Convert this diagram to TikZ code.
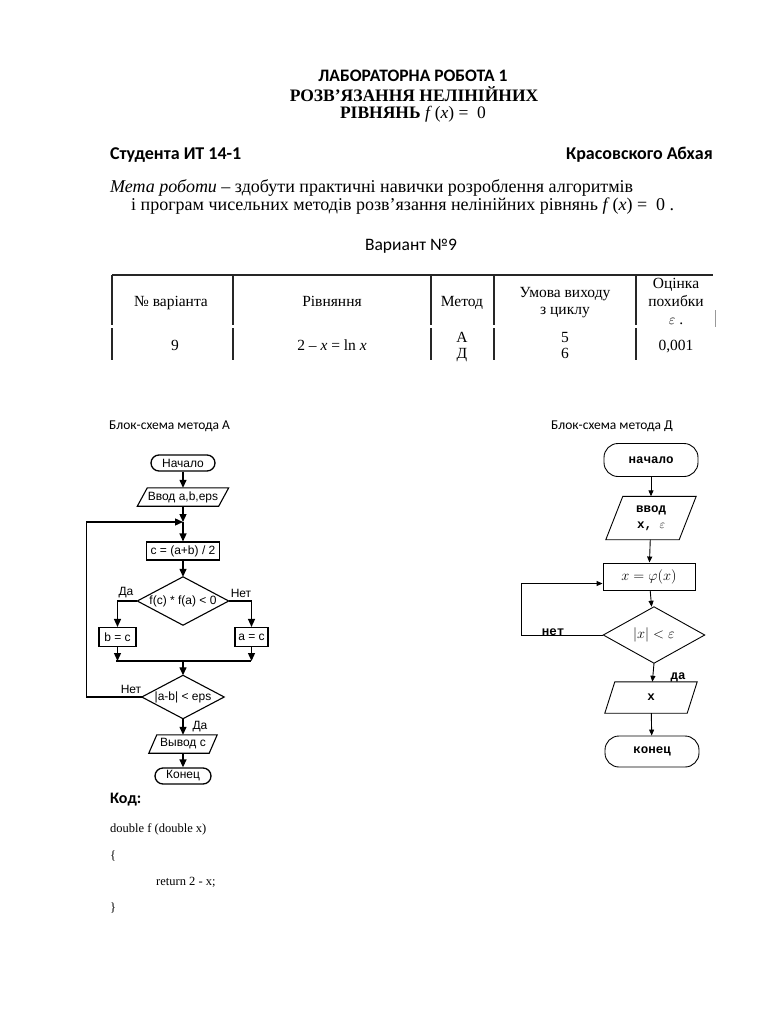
\documentclass[tikz,border=0pt]{standalone}
\usepackage{fontspec}
\setmainfont{Liberation Serif}
\newfontfamily\calf{Carlito}
\newfontfamily\arf{Liberation Sans}
\newfontfamily\monf{Liberation Mono}
\usetikzlibrary{arrows.meta,calc}
\newcommand\fs[1]{\fontsize{#1}{#1}\selectfont}
\newcommand\mypara[3]{\draw[#3] (#1.south west) -- ([xshift=-#2]#1.south east) -- (#1.north east) -- ([xshift=#2]#1.north west) -- cycle;}
\newcommand\mydiam[2]{\draw[#2] (#1.north) -- (#1.east) -- (#1.south) -- (#1.west) -- cycle;}
\tikzset{
  txt/.style={inner sep=0},
  hdr/.style={txt,anchor=base,font=\calf\bfseries\fs{17.5}},
  body/.style={txt,anchor=base west,font=\fs{18}},
  tab/.style={txt,anchor=base,font=\fs{15.5}},
  tline/.style={line width=1.1pt,black!85},
  % flowchart A
  aline/.style={line width=1.3pt},
  aarrow/.style={line width=1.3pt,-{Triangle[length=8pt,width=7pt]}},
  aterm/.style={draw,line width=1.3pt,rounded corners=8pt,inner sep=0,font=\arf\fs{12}},
  abox/.style={draw,line width=1.1pt,inner sep=0,font=\arf\fs{12}},
  ashape/.style={inner sep=0,font=\arf\fs{12}},
  alab/.style={txt,font=\arf\fs{12}},
  % flowchart D
  dline/.style={line width=0.9pt},
  darrow/.style={line width=0.9pt,-{Triangle[length=6pt,width=5pt]}},
  dterm/.style={draw,line width=0.9pt,rounded corners=14pt,inner sep=0,font=\monf\bfseries\fs{12.5}},
  dbox/.style={draw,line width=0.9pt,inner sep=0,font=\fs{15}},
  dshape/.style={inner sep=0,font=\monf\bfseries\fs{12.5}},
  dlab/.style={txt,font=\monf\bfseries\fs{12.5}},
  captxt/.style={txt,anchor=base west,font=\calf\fs{13.5}},
  code/.style={txt,anchor=base west,font=\fs{12.5}}
}
\begin{document}
\begin{tikzpicture}[x=1pt,y=-1pt]
\useasboundingbox[fill=white] (0,0) rectangle (768,1024);

% ---------- header ----------
\node[hdr] (t1) at (413,82) {ЛАБОРАТОРНА РОБОТА 1};
\node[txt,anchor=base,font=\bfseries\fs{17.5}] (t2) at (414,102) {РОЗВ’ЯЗАННЯ НЕЛІНІЙНИХ};
\node[txt,anchor=base,font=\fs{17.5}] (t3) at (413,119) {\textbf{РІВНЯНЬ} \textit{f}\,(\textit{x}) = \ 0};
\node[hdr,anchor=base west,font=\calf\bfseries\fs{18}] (st) at (110,160) {Студента ИТ 14-1};
\node[hdr,anchor=base east,font=\calf\bfseries\fs{18}] (nm) at (713,160) {Красовского Абхая};
\node[body] (m1) at (110,193) {\textit{Мета роботи} – здобути практичні навички розроблення алгоритмів};
\node[body] (m2) at (131,211) {і програм чисельних методів розв’язання нелінійних рівнянь \textit{f}\,(\textit{x}) = \ 0 .};
\node[txt,anchor=base,font=\calf\fs{17.5}] (var) at (411,250) {Вариант №9};

% ---------- table ----------
\draw[tline] (112,275) -- (713,275);
\foreach \x in {112,233,431,494,636}{
  \draw[tline] (\x,275) -- (\x,325);
  \draw[tline] (\x,328) -- (\x,360);
}
\draw[black!40,line width=0.8pt] (715,310) -- (715,327);
\node[tab] (h1) at (171,306) {№ варіанта};
\node[tab] (h2) at (332,306) {Рівняння};
\node[tab] (h3) at (462,306) {Метод};
\node[tab] (h4a) at (565,297) {Умова виходу};
\node[tab] (h4b) at (565,314) {з циклу};
\node[tab] (h5a) at (676,288) {Оцінка};
\node[tab] (h5b) at (676,306) {похибки};
\node[tab] (h5c) at (676,324) {$\varepsilon$ .};
\node[tab] (r1) at (175,350) {9};
\node[tab] (r2) at (332,350) {2 – \textit{x} = ln \textit{x}};
\node[tab] (r3a) at (462,342) {А};
\node[tab] (r3b) at (462,358) {Д};
\node[tab] (r4a) at (565,342) {5};
\node[tab] (r4b) at (565,358) {6};
\node[tab] (r5) at (676,350) {0,001};

% ---------- captions ----------
\node[captxt] (capA) at (109,429) {Блок-схема метода А};
\node[captxt] (capD) at (551,429) {Блок-схема метода Д};

% ---------- flowchart A ----------
\node[aterm,minimum width=64,minimum height=16] (sA) at (183,463) {Начало};
\node[ashape,minimum width=91,minimum height=18] (iA) at (183,497) {Ввод a,b,eps};
\mypara{iA}{10pt}{line width=1.1pt}
\coordinate (jA) at (183,522);
\node[abox,minimum width=73,minimum height=18] (cA) at (183,551) {c = (a+b) / 2};
\node[ashape,minimum width=91,minimum height=48] (dA) at (183,601) {f(c) * f(a) < 0};
\mydiam{dA}{line width=1.1pt}
\node[abox,minimum width=37,minimum height=19] (bA) at (117.5,637) {b = c};
\node[abox,minimum width=33,minimum height=19] (aA) at (251.5,637) {a = c};
\coordinate (mL) at (116,661);
\coordinate (mR) at (251,661);
\coordinate (mC) at (183,661);
\node[ashape,minimum width=82,minimum height=43] (eA) at (183,697) {|a-b| < eps};
\mydiam{eA}{line width=1.1pt}
\node[ashape,minimum width=68,minimum height=18] (oA) at (183,744) {Вывод c};
\mypara{oA}{8pt}{line width=1.1pt}
\node[aterm,minimum width=56,minimum height=16] (fA) at (183,776) {Конец};

\draw[aarrow] (sA) -- (iA);
\draw[aarrow] (iA) -- (jA);
\draw[aarrow] (jA) -- (cA);
\draw[aarrow] (cA) -- (dA);
\draw[aarrow] (dA.west) -| (bA.north);
\draw[aarrow] (dA.east) -| (aA.north);
\draw[aarrow] (bA.south) -- (bA.south |- mL);
\draw[aarrow] (aA.south) -- (aA.south |- mR);
\draw[aline] (mL) -- (mR);
\draw[aarrow] (mC) -- (eA.north);
\draw[aarrow] (eA.west) -- ++(-55,0) |- (jA);
\draw[aarrow] (eA.south) -- (oA);
\draw[aarrow] (oA) -- (fA);
\node[alab] (lA1) at (126,593) {Да};
\node[alab] (lA2) at (241,593) {Нет};
\node[alab] (lA3) at (131,689) {Нет};
\node[alab] (lA4) at (200,727) {Да};

% ---------- flowchart D ----------
\node[dterm,minimum width=94,minimum height=33] (sD) at (651,460) {начало};
\node[dshape,minimum width=90,minimum height=43] (iD) at (651,518) {\raisebox{-3pt}{\begin{tabular}{@{}c@{}}ввод\\[3pt]x,\ {\rmfamily\mdseries$\varepsilon$}\end{tabular}}};
\mypara{iD}{17pt}{line width=0.9pt}
\node[dbox,minimum width=92,minimum height=27] (cD) at (649,576.5) {$x = \varphi(x)$};
\node[inner sep=0,minimum width=101,minimum height=56,font=\fs{15}] (dD) at (654,635) {$|x| < \varepsilon$};
\mydiam{dD}{line width=0.9pt}
\node[dshape,minimum width=92,minimum height=31] (oD) at (651,697.5) {x};
\mypara{oD}{10pt}{line width=0.9pt}
\node[dterm,minimum width=94,minimum height=31] (fD) at (652,751.5) {конец};
\coordinate (lpD) at (521,635);

\draw[darrow] (sD) -- (iD);
\draw[darrow] (iD) -- (cD);
\draw[darrow] (cD) -- (dD);
\draw[dline] (dD.west) -- (lpD);
\draw[darrow] (lpD) |- ([yshift=-7pt]cD.west);
\draw[darrow] (dD.south) -- (oD);
\draw[darrow] (oD) -- (fD);
\node[dlab] (lD1) at (553,632) {нет};
\node[dlab] (lD2) at (678,677) {да};

% ---------- code ----------
\node[txt,anchor=base west,font=\calf\bfseries\fs{16}] (kod) at (110,803) {Код:};
\node[code] (c1) at (110,832) {double f (double x)};
\node[code] (c2) at (110,859) {\{};
\node[code] (c3) at (156,885) {return 2 - x;};
\node[code] (c4) at (110,911) {\}};
\end{tikzpicture}
\end{document}
